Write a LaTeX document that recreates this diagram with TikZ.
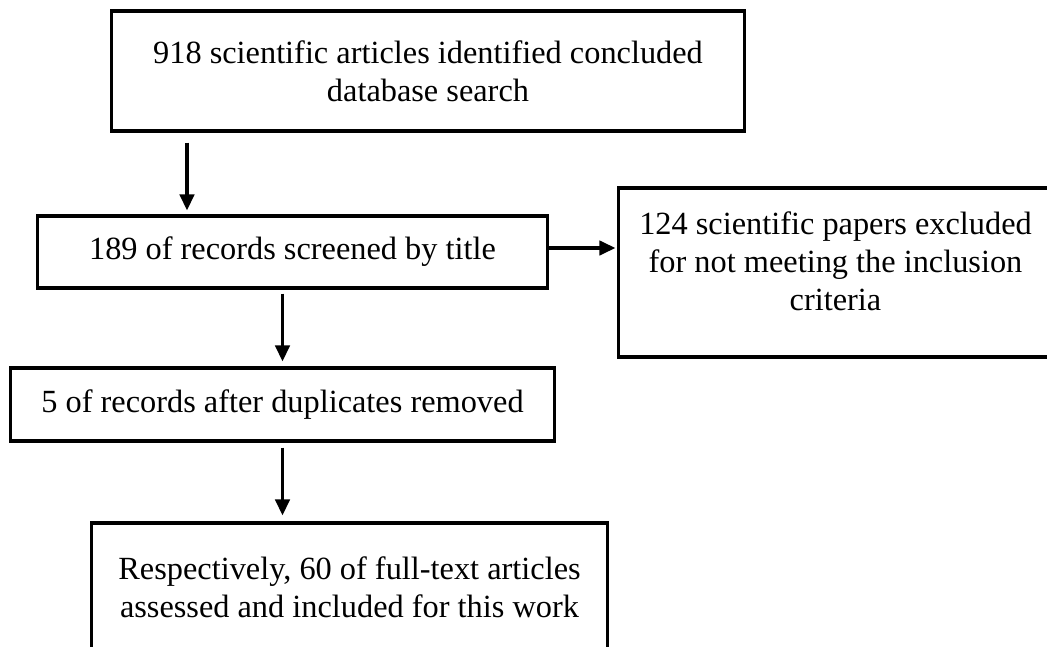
\documentclass[tikz,border=0pt]{standalone}
\usepackage{fontspec}
\setmainfont{Liberation Serif}
\usepackage{tikz}
\usetikzlibrary{arrows.meta,positioning,calc}

\begin{document}
\begin{tikzpicture}[x=0.025cm,y=-0.025cm,
    stage/.style={draw,line width=2.2pt,align=center,inner sep=0pt,
                  font=\fontsize{23}{27}\selectfont},
    note/.style={align=center,inner sep=0pt,font=\fontsize{23}{27}\selectfont},
    arr/.style={-{Triangle[width=0.36cm,length=0.4cm]},line width=2.2pt}]
  \useasboundingbox (0,0) rectangle (1047,646);
  \node[stage,minimum width=15.8cm,minimum height=3cm] (src) at (428,71)
    {918 scientific articles identified concluded\\database search};
  \node[stage,minimum width=12.725cm,minimum height=1.8cm] (screen) at (292.5,252)
    {189 of records screened by title};
  \node[stage,minimum width=10.825cm,minimum height=4.225cm] (excl) at (835.5,272.5) {};
  \node[note] (excltxt) at (835.5,261)
    {124 scientific papers excluded\\for not meeting the inclusion\\criteria};
  \node[stage,minimum width=13.575cm,minimum height=1.825cm] (dedup) at (282.5,404.5)
    {5 of records after duplicates removed};
  \node[stage,minimum width=12.875cm,minimum height=3.225cm] (incl) at (349.5,587.5)
    {Respectively, 60 of full-text articles\\assessed and included for this work};
  \coordinate (a1) at (187,0);
  \draw[arr,shorten <=0.25cm,shorten >=0.1cm] (src.south -| a1) -- (screen.north -| a1);
  \draw[arr,shorten <=0.1cm,shorten >=0.125cm] (screen.south -| dedup.north) -- (dedup.north);
  \draw[arr,shorten <=0.125cm,shorten >=0.15cm] (dedup.south) -- (incl.north -| dedup.south);
  \draw[arr,shorten >=0.05cm] ([yshift=0.1cm]screen.east) -- ([yshift=0.1cm]screen.east -| excl.west);
\end{tikzpicture}
\end{document}
